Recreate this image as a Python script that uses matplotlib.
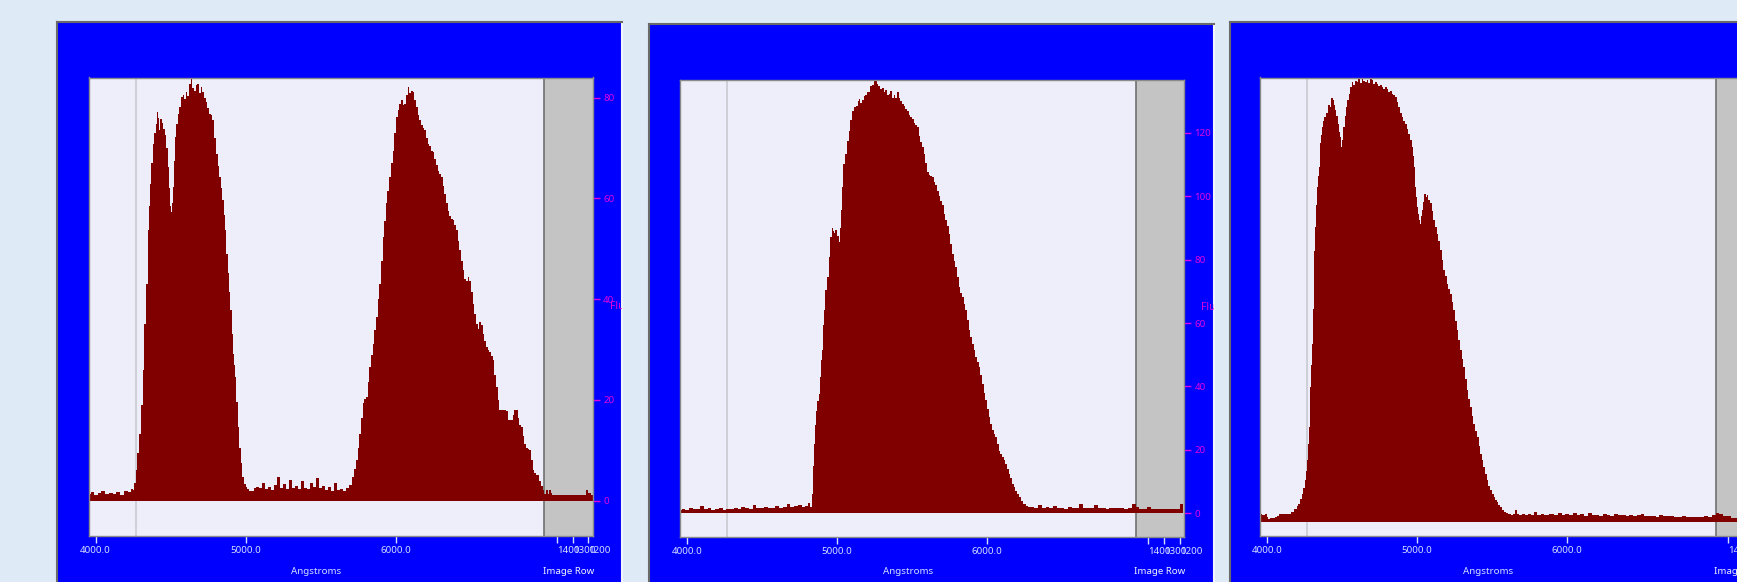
import numpy as np
import matplotlib.pyplot as plt

# ---------------------------------------------
# datos: tres espectros (Angstroms vs flujo)
# ---------------------------------------------
onda1 = [3955, 3980, 4000, 4025, 4050, 4075, 4100, 4125, 4150, 4175, 4200, 4225, 4240, 4251,
         4262, 4273, 4284, 4295, 4306, 4318, 4329, 4340, 4351, 4358, 4366, 4375, 4384, 4395,
         4406, 4412, 4417, 4425, 4433, 4444, 4455, 4466, 4475, 4484, 4490, 4495, 4500, 4506,
         4512, 4517, 4525, 4533, 4542, 4551, 4562, 4573, 4584, 4595, 4606, 4617, 4628, 4639,
         4650, 4661, 4672, 4684, 4695, 4706, 4717, 4728, 4739, 4750, 4761, 4772, 4784, 4795,
         4806, 4817, 4828, 4839, 4850, 4858, 4866, 4875, 4883, 4892, 4901, 4909, 4917, 4925,
         4932, 4941, 4950, 4961, 4972, 4983, 4994, 5005, 5017, 5030, 5045, 5061,
         5080, 5100, 5120, 5140, 5160, 5180, 5200, 5220, 5240, 5260, 5280, 5300, 5320, 5340,
         5360, 5380, 5400, 5420, 5440, 5460, 5480, 5500, 5520, 5540, 5560, 5580, 5600, 5620,
         5640, 5660, 5680, 5700,
         5718, 5729, 5740, 5751, 5762, 5773, 5784, 5796, 5807, 5818, 5829, 5840, 5851, 5862,
         5873, 5884, 5895, 5906, 5918, 5927, 5935, 5948, 5962, 5973, 5984, 5995, 6006, 6017,
         6029, 6040, 6051, 6062, 6073, 6084, 6095, 6106, 6117, 6128, 6139, 6150, 6162, 6173,
         6184, 6195, 6206, 6217, 6228, 6239, 6250, 6262, 6273, 6284, 6295, 6306, 6317, 6328,
         6339, 6350, 6362, 6373, 6384, 6395, 6406, 6417, 6428, 6439, 6450, 6461, 6472, 6484,
         6495, 6506, 6517, 6528, 6539, 6550, 6561, 6572, 6583, 6594, 6605, 6617, 6628, 6639,
         6650, 6661, 6672, 6683, 6694, 6710, 6728, 6740, 6750, 6761, 6772, 6783, 6794, 6805,
         6816, 6828, 6839, 6850, 6861, 6872, 6883, 6894, 6905, 6916, 6927, 6940, 6950, 6961,
         6972, 6983, 6994, 7005, 7015, 7025, 7035, 7049, 7100, 7150, 7200, 7260, 7271, 7282,
         7312]
flujo1 = [1.3, 1.8, 1.2, 1.5, 1.9, 1.3, 1.6, 1.4, 1.8, 1.2, 1.9, 1.7, 2.3, 2.1,
          3.5, 6.0, 9.5, 13.3, 19.0, 25.9, 35.0, 43.1, 53.7, 58.5, 62.9, 67.0, 70.9, 73.0,
          74.8, 77.2, 76.0, 73.5, 75.8, 75.0, 73.8, 72.5, 70.0, 66.2, 62.0, 60.9, 58.5, 57.3,
          59.0, 62.3, 67.5, 72.2, 74.8, 76.8, 78.2, 80.1, 80.5, 79.8, 81.1, 80.3, 82.8, 84.0,
          82.0, 81.4, 82.5, 82.8, 81.0, 82.2, 81.1, 80.0, 79.1, 78.0, 76.8, 76.5, 75.5, 72.0,
          68.9, 66.5, 64.2, 62.0, 59.6, 56.8, 53.7, 49.0, 45.1, 41.5, 37.8, 33.0, 29.2, 27.0,
          24.6, 19.5, 14.6, 10.5, 7.4, 4.8, 3.4, 2.7, 2.4, 1.9, 2.0, 2.6,
          2.8, 2.5, 3.6, 2.4, 2.7, 2.2, 3.1, 4.8, 2.6, 3.3, 2.4, 4.2, 2.5, 2.9,
          2.3, 3.9, 2.6, 2.3, 3.5, 2.8, 4.6, 2.5, 3.0, 2.2, 2.8, 2.0, 3.6, 2.1,
          2.4, 1.9, 2.6, 3.2,
          4.7, 6.2, 8.0, 10.5, 13.3, 16.5, 19.3, 20.2, 20.6, 23.5, 26.6, 29.0, 31.2, 33.8,
          36.5, 40.0, 43.1, 47.5, 52.3, 55.5, 59.0, 61.5, 64.2, 67.0, 69.5, 73.0, 76.2, 77.5,
          78.8, 79.5, 78.5, 78.8, 80.5, 82.1, 81.0, 81.4, 81.1, 79.5, 78.1, 76.5, 75.5, 74.5,
          74.0, 73.5, 72.0, 70.9, 70.5, 69.5, 69.2, 67.8, 66.6, 65.5, 64.8, 64.2, 62.5, 60.9,
          59.0, 57.6, 56.5, 56.0, 55.7, 54.8, 53.7, 51.5, 49.7, 47.5, 45.7, 44.0, 43.7, 44.5,
          43.7, 41.5, 39.1, 37.0, 35.1, 34.0, 35.5, 34.8, 33.0, 31.8, 30.5, 29.9, 29.5, 28.8,
          27.9, 25.0, 22.6, 20.0, 18.0, 18.0, 18.0, 17.8, 16.0, 16.0, 16.0, 17.0, 18.0, 18.0,
          16.5, 15.0, 14.6, 12.8, 11.3, 10.5, 10.2, 10.0, 8.0, 6.1, 5.5, 5.1, 5.1, 4.0,
          3.0, 2.1, 1.4, 2.1, 1.3, 2.2, 1.6, 1.1, 1.1, 1.1, 1.1, 1.1, 2.1, 1.6,
          1.2]

onda2 = [3951, 3975, 4000, 4025, 4050, 4075, 4100, 4125, 4150, 4175, 4200, 4225, 4250, 4275,
         4300, 4325, 4350, 4375, 4400, 4425, 4450, 4475, 4500, 4525, 4550, 4575, 4600, 4625,
         4650, 4675, 4700, 4725, 4750, 4775, 4800, 4815, 4827,
         4838, 4844, 4850, 4856, 4861, 4872, 4883, 4889, 4894, 4900, 4905, 4911, 4916, 4927,
         4938, 4949, 4960, 4966, 4972, 4983, 4994, 5005, 5016, 5024, 5031, 5038, 5045, 5060,
         5071, 5082, 5094, 5105, 5118, 5131, 5140, 5149, 5160, 5171, 5183, 5194, 5205, 5216,
         5227, 5240, 5256, 5268, 5282, 5293, 5304, 5315, 5326, 5337, 5349, 5360, 5371, 5382,
         5393, 5404, 5415, 5427, 5438, 5449, 5460, 5471, 5482, 5493, 5504, 5515, 5526, 5537,
         5548, 5560, 5571, 5582, 5593, 5604, 5615, 5626, 5637, 5648, 5660, 5671, 5682, 5693,
         5704, 5715, 5726, 5737, 5748, 5759, 5770, 5781, 5793, 5804, 5815, 5826, 5837, 5848,
         5859, 5870, 5881, 5892, 5904, 5915, 5926, 5937, 5948, 5959, 5970, 5981, 5992, 6003,
         6014, 6025, 6037, 6048, 6059, 6070, 6081, 6092, 6103, 6114, 6125, 6136, 6148, 6159,
         6170, 6181, 6192, 6203, 6214, 6231, 6248, 6265, 6281,
         6300, 6325, 6350, 6375, 6400, 6425, 6450, 6475, 6500, 6525, 6550, 6575, 6600, 6625,
         6650, 6675, 6700, 6725, 6750, 6775, 6800, 6825, 6850, 6875, 6900, 6925, 6950, 6975,
         7000, 7025, 7050, 7075, 7100, 7125, 7150, 7175, 7200, 7225, 7250, 7275, 7295, 7306]
flujo2 = [1.2, 1.5, 1.1, 1.8, 1.3, 1.4, 2.2, 1.3, 1.6, 1.2, 1.5, 1.7, 1.1, 1.5,
          1.4, 1.8, 1.5, 2.0, 1.6, 1.5, 2.5, 1.7, 1.6, 2.1, 1.8, 1.6, 2.3, 1.8,
          1.9, 2.8, 1.9, 2.2, 2.6, 2.0, 2.4, 3.2, 2.0,
          6.2, 15.0, 22.0, 28.0, 32.4, 35.5, 37.7, 43.0, 48.2, 51.5, 54.5, 59.5, 64.0, 70.3,
          74.5, 80.8, 87.1, 89.9, 89.0, 88.5, 89.2, 87.5, 85.5, 90.0, 95.5, 103.0, 110.2, 113.4,
          117.5, 120.7, 124.0, 127.0, 128.0, 128.6, 130.0, 130.7, 129.5, 130.2, 131.5, 132.0, 132.8, 133.0,
          134.9, 135.2, 136.5, 135.5, 134.9, 133.8, 134.0, 132.8, 133.5, 131.8, 132.3, 133.2, 131.0, 131.8,
          131.0, 132.8, 131.0, 130.0, 129.2, 128.5, 127.5, 127.0, 125.5, 125.0, 124.4, 123.0, 122.5, 121.8,
          119.0, 117.1, 115.5, 113.4, 110.5, 107.6, 106.8, 106.3, 106.0, 104.5, 103.4, 101.5, 100.2, 98.5,
          97.1, 94.5, 92.4, 90.5, 88.1, 85.0, 81.8, 79.5, 77.6, 74.5, 71.3, 69.5, 68.2, 66.0,
          64.0, 61.0, 57.7, 55.5, 53.5, 51.5, 49.3, 47.8, 46.1, 43.5, 40.9, 38.0, 35.6, 33.0,
          30.4, 28.3, 26.2, 25.0, 24.0, 22.0, 19.8, 18.8, 17.7, 16.7, 15.6, 14.0, 12.5, 11.0,
          9.3, 8.2, 7.2, 6.2, 5.1, 4.0, 3.0, 2.4, 1.9,
          2.1, 1.8, 2.5, 1.7, 1.9, 1.6, 2.2, 1.7, 1.8, 1.5, 1.9, 1.6, 1.7, 3.0,
          1.7, 1.6, 1.8, 2.7, 1.6, 1.7, 1.5, 1.8, 1.6, 1.7, 1.6, 1.5, 1.7, 3.0,
          2.0, 1.5, 1.3, 1.9, 1.4, 1.3, 1.3, 1.4, 1.3, 1.4, 1.3, 1.3, 3.0, 1.8]

onda3 = [3947, 3960, 3975, 3991, 4005, 4013, 4030, 4045, 4058, 4075, 4090, 4102, 4125, 4147,
         4170, 4191, 4202, 4213, 4225, 4236, 4247, 4258, 4264, 4269, 4275, 4280, 4286, 4291,
         4297, 4302, 4308, 4313, 4319, 4324, 4330, 4336, 4341, 4347, 4352, 4358, 4363, 4369,
         4378, 4387, 4400, 4413, 4425, 4433, 4440, 4449, 4458, 4467, 4476, 4482, 4487, 4493,
         4498, 4505, 4513, 4521, 4529, 4538, 4547, 4558, 4569, 4580, 4591, 4602, 4613, 4625,
         4636, 4647, 4658, 4669, 4680, 4691, 4702, 4713, 4725, 4736, 4747, 4758, 4769, 4780,
         4791, 4802, 4813, 4825, 4836, 4847, 4858, 4869, 4880, 4891, 4902, 4913, 4925, 4936,
         4947, 4958, 4969, 4975, 4980, 4986, 4991, 4997, 5002, 5008, 5014, 5020, 5025, 5030,
         5036, 5044, 5051, 5060, 5069, 5080, 5091, 5102, 5114, 5125, 5136, 5147, 5158, 5169,
         5180, 5191, 5203, 5214, 5225, 5236, 5247, 5258, 5269, 5280, 5291, 5302, 5314, 5325,
         5336, 5347, 5358, 5369, 5380, 5391, 5403, 5414, 5425, 5436, 5447, 5458, 5469, 5480,
         5492, 5503, 5514, 5525, 5536, 5547, 5558, 5570, 5581, 5597, 5614, 5630, 5645, 5658,
         5670, 5690, 5710, 5725, 5745, 5770, 5792, 5810, 5835, 5858,
         5900, 5925, 5950, 5975, 6000, 6025, 6050, 6075, 6100, 6125, 6150, 6175, 6200, 6225,
         6250, 6275, 6300, 6325, 6350, 6375, 6400, 6425, 6450, 6475, 6500, 6525, 6550, 6575,
         6600, 6625, 6650, 6675, 6700, 6725, 6750, 6775, 6800, 6825, 6850, 6875, 6900, 6925,
         6950, 6975, 7000, 7025, 7050, 7075, 7100, 7150, 7200, 7250, 7310]
flujo3 = [2.2, 2.6, 2.3, 2.4, 1.5, 1.0, 1.2, 1.4, 1.6, 2.0, 2.5, 2.6, 2.4, 2.6,
          3.2, 4.2, 5.0, 5.8, 7.2, 8.9, 10.8, 13.1, 16.0, 19.4, 24.5, 29.9, 36.0, 42.6,
          49.5, 56.2, 67.0, 77.2, 85.5, 93.0, 100.0, 105.6, 109.0, 111.9, 116.0, 119.3, 122.0, 124.5,
          126.5, 127.7, 129.0, 131.4, 130.8, 133.5, 133.0, 131.5, 129.8, 128.0, 125.6, 123.0, 121.4, 119.5,
          118.2, 120.5, 124.5, 128.0, 130.8, 133.0, 135.0, 137.0, 138.7, 137.8, 138.9, 138.7, 139.5, 138.5,
          139.8, 139.0, 138.8, 139.2, 138.3, 139.5, 139.2, 138.0, 138.6, 138.2, 137.5, 137.8, 137.1, 136.5,
          137.0, 136.6, 135.5, 135.8, 135.0, 134.5, 134.0, 132.5, 130.8, 129.0, 127.7, 126.5, 125.6, 124.0,
          122.4, 120.5, 118.2, 115.5, 111.9, 108.5, 105.6, 102.5, 99.3, 97.0, 95.1, 94.0, 94.1, 96.5,
          98.3, 101.0, 103.5, 102.5, 103.0, 101.5, 100.4, 98.0, 95.1, 93.0, 90.9, 88.5, 85.7, 82.5,
          79.3, 77.5, 75.1, 73.5, 72.0, 69.5, 66.7, 63.5, 60.4, 57.3, 54.1, 51.5, 48.9, 45.0,
          41.5, 38.8, 36.2, 33.5, 31.0, 28.8, 26.8, 24.0, 21.5, 19.5, 17.3, 15.0, 13.1, 11.5,
          10.0, 8.9, 7.9, 7.0, 6.3, 5.5, 4.7, 3.8, 3.1, 2.8, 2.6, 2.2, 2.5, 3.7,
          2.4, 2.2, 2.5, 2.1, 2.4, 2.2, 3.1, 2.1, 2.5, 2.1,
          2.6, 2.2, 3.0, 2.3, 2.5, 2.1, 2.8, 2.3, 2.4, 2.0, 2.7, 2.2, 2.3, 1.9,
          2.5, 2.2, 2.0, 2.6, 2.1, 2.2, 1.9, 2.3, 2.0, 2.1, 2.6, 1.8, 1.9, 2.0,
          1.7, 2.2, 1.8, 1.8, 2.0, 1.6, 1.7, 1.9, 1.6, 1.7, 1.6, 1.7, 1.6, 1.8,
          1.7, 2.2, 3.0, 2.4, 2.0, 1.8, 1.3, 1.4, 1.3, 1.5, 1.4]

ticks_flujo1 = [0, 20, 40, 60, 80]
ticks_flujo2 = [0, 20, 40, 60, 80, 100, 120]
ticks_onda = [4000, 5000, 6000]
filas = [1400, 1300, 1200]

# ---------------------------------------------
# geometria de la ventana (pixeles)
# ---------------------------------------------
W, H = 1737, 582
AZUL = '#0000FF'
FONDO = '#EEEEFB'
GRIS = '#C4C4C4'
ROJO = '#800000'
MAGENTA = '#E000E0'
CLARO = '#D4DEFF'


def caja(x0, y0, x1, y1):
    '''pasa una caja en pixeles (origen arriba) a fracciones de figura'''
    return [x0 / W, 1 - y1 / H, (x1 - x0) / W, (y1 - y0) / H]


def fila_a_onda(f):
    '''posicion en Angstroms de una fila de la imagen'''
    return 7073 - (np.asarray(f) - 1400) * 1.045


paneles = [
    dict(marco=(57, 22, 622, 620), plot=(88.6, 77.5, 592.7, 536), ylim=(-7.0, 84.0),
         onda=onda1, flujo=flujo1, yt=ticks_flujo1),
    dict(marco=(649, 24, 1214, 620), plot=(680, 79.5, 1184, 536.5), ylim=(-7.3, 136.8),
         onda=onda2, flujo=flujo2, yt=ticks_flujo2),
    dict(marco=(1230, 22, 1795, 620), plot=(1260, 77.5, 1764, 536), ylim=(-4.4, 140.1),
         onda=onda3, flujo=flujo3, yt=ticks_flujo2),
]

XMIN, XMAX, XGRIS, XLINEA = 3953, 7310, 6987, 4266

plt.rcParams['font.family'] = ['Noto Sans', 'DejaVu Sans']
fig = plt.figure(figsize=(W / 100, H / 100), dpi=100)
fig.patch.set_facecolor('#DEEAF5')

for p in paneles:
    # marco azul
    m = fig.add_axes(caja(*p['marco']), zorder=0)
    m.set_facecolor(AZUL)
    m.set_xticks([])
    m.set_yticks([])
    m.set_xlim(0, 1)
    m.set_ylim(0, 1)
    for lado, col in [('top', '#6A6A6A'), ('left', '#6A6A6A'),
                      ('right', '#F2F6FB'), ('bottom', '#F2F6FB')]:
        m.spines[lado].set_color(col)
        m.spines[lado].set_linewidth(1.5)

    # area del grafico
    ax = fig.add_axes(caja(*p['plot']), zorder=1)
    ax.set_facecolor(FONDO)
    ax.set_xlim(XMIN, XMAX)
    ax.set_ylim(*p['ylim'])
    ax.axvspan(XGRIS, XMAX, color=GRIS, lw=0, zorder=0)
    ax.axvline(XGRIS, color='#707070', lw=1.2, zorder=0.5)
    ax.axvline(XLINEA, color='#C9C9D2', lw=1.2, zorder=0.5)
    ax.fill_between(p['onda'], p['flujo'], 0, step='mid', color=ROJO, lw=0, zorder=2)
    for s in ax.spines.values():
        s.set_color('#8A8A8A')
        s.set_linewidth(1.0)

    # eje x: Angstroms + filas de la imagen
    pos = list(ticks_onda) + list(fila_a_onda(filas))
    etiq = ['%.1f' % t for t in ticks_onda] + [str(f) for f in filas]
    ax.set_xticks(pos)
    ax.set_xticklabels(etiq)
    ax.tick_params(axis='x', direction='out', length=5, width=1, pad=2.5,
                   colors=CLARO, labelsize=7)
    for lab in ax.get_xticklabels()[3:]:
        lab.set_ha('left')

    # eje y a la derecha, en magenta
    ax.yaxis.tick_right()
    ax.set_yticks(p['yt'])
    ax.tick_params(axis='y', direction='out', length=5, width=1, pad=2.5,
                   colors=MAGENTA, labelsize=7)

    # rotulos
    x0, y0, x1, y1 = p['plot']
    mx0, my0, mx1, my1 = p['marco']
    fx = lambda xp: (xp - mx0) / (mx1 - mx0)
    fy = lambda yp: 1 - (yp - my0) / (my1 - my0)
    xg = x0 + (XGRIS - XMIN) / (XMAX - XMIN) * (x1 - x0)
    m.text(fx((x0 + xg) / 2), fy(571.5), 'Angstroms', color=CLARO, fontsize=7,
           ha='center', va='center', clip_on=True)
    m.text(fx((xg + x1) / 2), fy(571.5), 'Image Row', color='#EEF0FF', fontsize=7,
           ha='center', va='center', clip_on=True)
    m.text(fx(x1 + 17), fy((y0 + y1) / 2), 'Flux', color=MAGENTA, fontsize=7.5,
           fontweight='bold', ha='left', va='center', clip_on=True)

fig.savefig('out.png', dpi=100, facecolor=fig.get_facecolor())
